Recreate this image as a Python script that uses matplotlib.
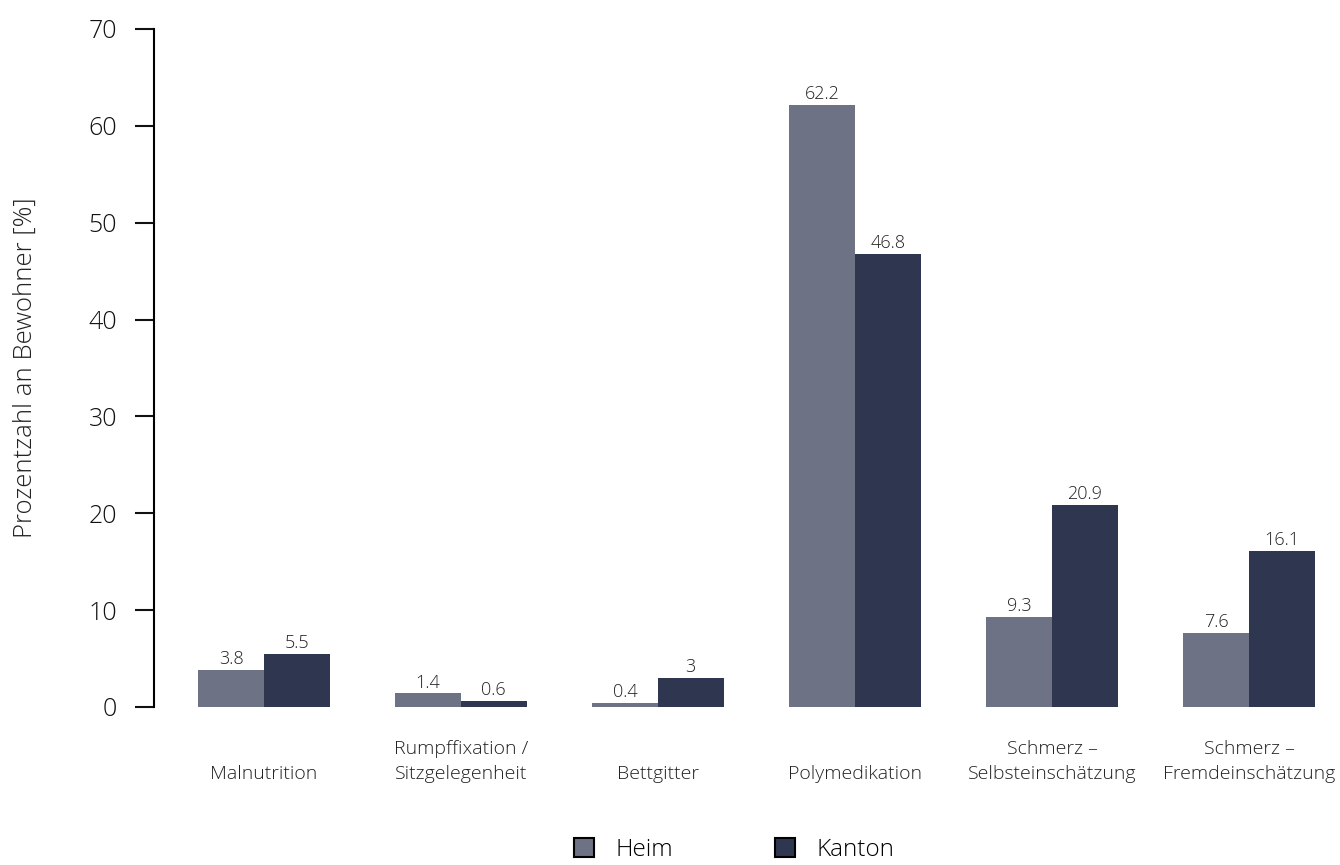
import matplotlib.pyplot as plt
import numpy as np

plt.rcParams['font.family'] = ['Open Sans', 'DejaVu Sans']
plt.rcParams['font.weight'] = 'light'
plt.rcParams['axes.labelweight'] = 'light'

categories = ['Malnutrition', 'Rumpffixation /\nSitzgelegenheit', 'Bettgitter',
              'Polymedikation', 'Schmerz –\nSelbsteinschätzung', 'Schmerz –\nFremdeinschätzung']
heim = [3.8, 1.4, 0.4, 62.2, 9.3, 7.6]
kanton = [5.5, 0.6, 3, 46.8, 20.9, 16.1]
heim_labels = ['3.8', '1.4', '0.4', '62.2', '9.3', '7.6']
kanton_labels = ['5.5', '0.6', '3', '46.8', '20.9', '16.1']

c_heim = '#6d7284'
c_kanton = '#2e374f'

fig = plt.figure(figsize=(13.4, 8.65), dpi=100)
ax = fig.add_axes([154 / 1340, 1 - 707 / 865, (1320 - 154) / 1340, (707 - 29) / 865])

x = np.arange(len(categories))
w = 0.333
b1 = ax.bar(x - w / 2, heim, w, color=c_heim, label='Heim')
b2 = ax.bar(x + w / 2, kanton, w, color=c_kanton, label='Kanton')

for bars, labs in [(b1, heim_labels), (b2, kanton_labels)]:
    for rect, lab in zip(bars, labs):
        ax.text(rect.get_x() + rect.get_width() / 2, rect.get_height() + 0.2, lab,
                ha='center', va='bottom', fontsize=13, color='#222222')

ax.set_xlim(-0.558, 5.36)
ax.set_ylim(0, 70)
ax.set_yticks(range(0, 71, 10))
ax.tick_params(axis='y', labelsize=18, length=13.7, width=1.5, pad=13, colors='#111111')
ax.set_xticks(x)
ax.set_xticklabels(categories, fontsize=14, va='bottom', color='#222222', linespacing=1.5)
ax.tick_params(axis='x', length=0, pad=55)
for s in ['top', 'right', 'bottom']:
    ax.spines[s].set_visible(False)
ax.spines['left'].set_linewidth(1.5)
ax.set_ylabel('Prozentzahl an Bewohner [%]', fontsize=18.5, labelpad=36,
              color='#222222', fontweight='light')

fig.legend(handles=[b1, b2], labels=['Heim', 'Kanton'], loc='lower center',
           bbox_to_anchor=(0.548, -0.022), ncol=2, frameon=False, fontsize=17.5,
           handlelength=0.8, handleheight=0.8, columnspacing=4.2, handletextpad=0.9)
for h in fig.legends[0].legend_handles:
    h.set_edgecolor('black')
    h.set_linewidth(1.5)

fig.savefig('out.png', dpi=100)
